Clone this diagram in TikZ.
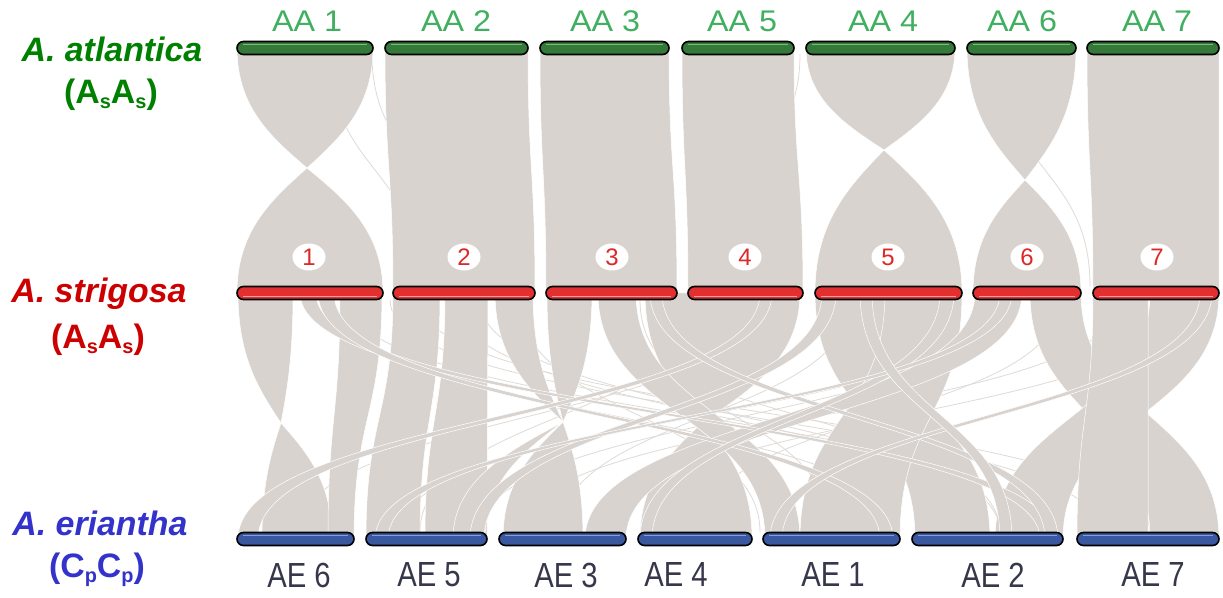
\documentclass[tikz,border=0pt]{standalone}
\usepackage{fontspec}
\setmainfont{Liberation Sans}
\newfontfamily\aafont[FakeStretch=1.08]{Liberation Sans}
\newfontfamily\aefont[FakeStretch=0.84]{Liberation Sans}
\usetikzlibrary{shapes.geometric}

\definecolor{ribbongrey}{RGB}{216,211,207}
\definecolor{atlgreen}{RGB}{0,128,0}
\definecolor{strred}{RGB}{204,0,0}
\definecolor{eriblue}{RGB}{51,51,204}
\definecolor{aatext}{RGB}{64,176,96}
\definecolor{numtext}{RGB}{220,40,40}
\definecolor{aetext}{RGB}{55,55,75}
\definecolor{barG}{RGB}{52,120,58}
\definecolor{barGhi}{RGB}{120,190,120}
\definecolor{barR}{RGB}{226,48,48}
\definecolor{barRhi}{RGB}{245,160,160}
\definecolor{barB}{RGB}{58,88,160}
\definecolor{barBhi}{RGB}{130,160,215}

% subscript used in the genome formulas
\newcommand\gsub[1]{\raisebox{-5bp}{\fontsize{20}{20}\selectfont #1}}

% synteny band between the top row (y=48) and the middle row (y=293)
\newcommand\upband[4]{\filldraw[synt] (#1,48) .. controls (#1,170) and (#3,170) .. (#3,293) -- (#4,293) .. controls (#4,170) and (#2,170) .. (#2,48) -- cycle;}
% synteny band between the middle row (y=293) and the bottom row (y=539)
\newcommand\loband[4]{\filldraw[synt] (#1,293) .. controls (#1,416) and (#3,416) .. (#3,539) -- (#4,539) .. controls (#4,416) and (#2,416) .. (#2,293) -- cycle;}
% one half of an inverted (twisted) band: interval #1..#2 on row #3, pinched at (#4,#5)
\newcommand\lobe[5]{\filldraw[synt] (#1,#3) .. controls (#1,{(#3+#5)/2}) and ({(#1+#4)/2},{#5-(#5-#3)/4}) .. (#4,#5) .. controls ({(#2+#4)/2},{#5-(#5-#3)/4}) and (#2,{(#3+#5)/2}) .. (#2,#3) -- cycle;}
% thin single links
\newcommand\lothin[2]{\draw[faint] (#1,300) .. controls (#1,416) and (#2,416) .. (#2,532);}
\newcommand\upthin[2]{\draw[faint] (#1,54) .. controls (#1,170) and (#2,170) .. (#2,286);}

\tikzset{
  synt/.style={fill=ribbongrey, draw=white, line width=0.5bp},
  faint/.style={draw=ribbongrey!85, line width=0.8bp},
  chrom/.style={rectangle, rounded corners=6.5bp, draw=black, line width=1.6bp,
    minimum height=13bp, inner sep=0pt},
  greenchr/.style={chrom, fill=barG, path picture={\draw[barGhi, line width=1.4bp]
    ([xshift=6bp,yshift=-3bp]path picture bounding box.north west) --
    ([xshift=-6bp,yshift=-3bp]path picture bounding box.north east);}},
  redchr/.style={chrom, fill=barR, path picture={\draw[barRhi, line width=1.4bp]
    ([xshift=6bp,yshift=3bp]path picture bounding box.south west) --
    ([xshift=-6bp,yshift=3bp]path picture bounding box.south east);}},
  bluechr/.style={chrom, fill=barB, path picture={\draw[barBhi, line width=1.2bp]
    ([xshift=6bp,yshift=-3bp]path picture bounding box.north west) --
    ([xshift=-6bp,yshift=-3bp]path picture bounding box.north east);}},
  aalabel/.style={text=aatext, font=\aafont\fontsize{30}{30}\selectfont, inner sep=0pt},
  aelabel/.style={text=aetext, font=\aefont\fontsize{35}{35}\selectfont, inner sep=0pt},
  numlabel/.style={ellipse, fill=white, minimum width=33bp, minimum height=27bp,
    inner sep=0pt, text=numtext, font=\fontsize{24}{24}\selectfont},
  species/.style={anchor=base, inner sep=0pt, font=\bfseries\itshape\fontsize{34}{34}\selectfont},
  genome/.style={anchor=base, inner sep=0pt, font=\bfseries\fontsize{34}{34}\selectfont},
}

\begin{document}
\begin{tikzpicture}[x=1bp, y=-1bp]
\useasboundingbox (0,0) rectangle (1223,598);

% ---------- A. atlantica -> A. strigosa ----------
\upthin{330}{420}
\upthin{372}{470}
\upthin{660}{560}
\upthin{800}{700}
\upthin{1000}{1090}
% AA1 -> 1 (inverted)
\lobe{237}{373}{48}{307}{168}
\lobe{237}{383}{293}{307}{168}
\upband{385}{528}{393}{535}
\upband{540}{669}{546}{677}
\upband{682}{794}{688}{803}
% AA4 -> 5 (inverted)
\lobe{806}{955}{48}{884}{150}
\lobe{815}{962}{293}{884}{150}
% AA6 -> 6 (inverted)
\lobe{967}{1076}{48}{1025}{180}
\lobe{973}{1081}{293}{1025}{180}
\upband{1087}{1219}{1093}{1219}

% ---------- A. strigosa -> A. eriantha ----------
\lothin{330}{900}
\lothin{350}{1040}
\lothin{455}{980}
\lothin{520}{760}
\lothin{640}{830}
\lothin{700}{420}
\lothin{760}{300}
\lothin{850}{560}
\lothin{930}{660}
\lothin{1010}{480}
\lothin{1060}{700}
\lothin{1180}{620}
\lothin{600}{1000}
\lothin{420}{1150}
\lothin{390}{1100}
\lothin{480}{1000}
\lothin{1120}{520}
\lothin{1000}{400}

% 1 -> AE6 (inverted)
\lobe{238}{293}{293}{281}{423}
\lobe{262}{332}{539}{281}{423}
\loband{340}{382}{328}{354}
% 2 -> AE5
\loband{393}{440}{366}{420}
\loband{445}{488}{425}{487}
% 2, 3 -> AE3, AE5 (pinched)
\lobe{495}{533}{293}{563}{422}
\lobe{547}{592}{293}{563}{422}
\lobe{503}{583}{539}{563}{422}
\lobe{453}{485}{539}{563}{422}
% 3, 4 -> AE4 (inverted)
\lobe{645}{800}{293}{703}{422}
\lobe{640}{752}{539}{703}{422}
% 3 -> AE1
\loband{598}{636}{765}{800}
% 5 -> AE2 / AE1 (crossing)
\loband{815}{885}{915}{990}
\loband{885}{962}{800}{900}
% 6 -> AE3 / AE7
\loband{975}{1022}{585}{626}
\loband{1030}{1081}{1150}{1219}
% 7 -> AE2 / AE7
\loband{1150}{1219}{995}{1063}
\loband{1093}{1148}{1077}{1148}
% narrow links
\loband{300}{316}{1040}{1055}
\loband{318}{334}{880}{893}
\loband{822}{836}{470}{484}
\loband{760}{772}{238}{258}
\loband{650}{662}{1045}{1058}
\loband{1200}{1212}{770}{782}
\loband{940}{954}{640}{652}
\loband{1000}{1012}{375}{388}
\loband{860}{872}{1000}{1012}

% ---------- chromosomes ----------
\foreach \n/\l/\r in {aa1/237/373, aa2/385/528, aa3/540/669, aa5/682/794,
                      aa4/806/955, aa6/967/1076, aa7/1087/1219}
  \node[greenchr, minimum width={(\r-\l)*1bp}] (\n) at ({(\l+\r)/2},48) {};
\foreach \n/\l/\r in {as1/237/383, as2/393/535, as3/546/677, as4/688/803,
                      as5/815/962, as6/973/1081, as7/1093/1219}
  \node[redchr, minimum width={(\r-\l)*1bp}] (\n) at ({(\l+\r)/2},293) {};
\foreach \n/\l/\r in {ae6/237/354, ae5/366/487, ae3/499/626, ae4/638/752,
                      ae1/763/900, ae2/912/1063, ae7/1077/1219}
  \node[bluechr, minimum width={(\r-\l)*1bp}] (\n) at ({(\l+\r)/2},539) {};

% ---------- chromosome labels ----------
\node[aalabel] (taa1) at (307,21) {AA 1};
\node[aalabel] (taa2) at (456,21) {AA 2};
\node[aalabel] (taa3) at (605,21) {AA 3};
\node[aalabel] (taa5) at (742,21) {AA 5};
\node[aalabel] (taa4) at (883,21) {AA 4};
\node[aalabel] (taa6) at (1022,21) {AA 6};
\node[aalabel] (taa7) at (1157,21) {AA 7};

\node[numlabel] (n1) at (309,257) {1};
\node[numlabel] (n2) at (464,257) {2};
\node[numlabel] (n3) at (612,257) {3};
\node[numlabel] (n4) at (745,257) {4};
\node[numlabel] (n5) at (888,257) {5};
\node[numlabel] (n6) at (1027,257) {6};
\node[numlabel] (n7) at (1157,257) {7};

\node[aelabel] (tae6) at (299,575) {AE 6};
\node[aelabel] (tae5) at (429,575) {AE 5};
\node[aelabel] (tae3) at (566,575) {AE 3};
\node[aelabel] (tae4) at (676,575) {AE 4};
\node[aelabel] (tae1) at (833,575) {AE 1};
\node[aelabel] (tae2) at (993,575) {AE 2};
\node[aelabel] (tae7) at (1153,575) {AE 7};

% ---------- species ----------
\node[species, text=atlgreen] (sp1) at (112,62) {A. atlantica};
\node[genome, text=atlgreen] (g1) at (111,104) {(A\gsub{s}A\gsub{s})};
\node[species, text=strred] (sp2) at (99,303) {A. strigosa};
\node[genome, text=strred] (g2) at (98,349) {(A\gsub{s}A\gsub{s})};
\node[species, text=eriblue] (sp3) at (100,535) {A. eriantha};
\node[genome, text=eriblue] (g3) at (97,577) {(C\gsub{p}C\gsub{p})};
\end{tikzpicture}
\end{document}
